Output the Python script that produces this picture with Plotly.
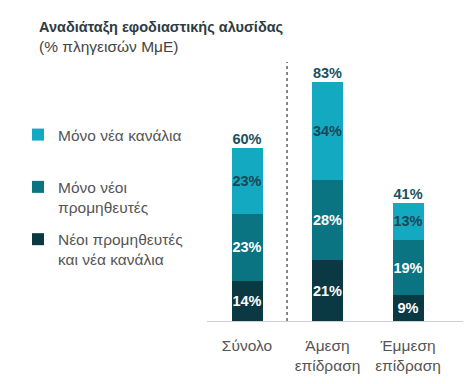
import plotly.graph_objects as go

categories = ["Σύνολο", "Άμεση<br>επίδραση", "Έμμεση<br>επίδραση"]
x_pos = [0, 1, 2]
both_new = [14, 21, 9]          # Νέοι προμηθευτές και νέα κανάλια
only_suppliers = [23, 28, 19]   # Μόνο νέοι προμηθευτές
only_channels = [23, 34, 13]    # Μόνο νέα κανάλια
totals = [60, 83, 41]

series_names = ["Νέοι προμηθευτές<br>και νέα κανάλια", "Μόνο νέοι<br>προμηθευτές", "Μόνο νέα κανάλια<br> "]
legend_ranks = [3, 2, 1]
colors = ["#0A3843", "#0B7482", "#13A9C0"]
label_colors = ["#FFFFFF", "#FFFFFF", "#1E4656"]

FONT = "Liberation Sans, Arial, sans-serif"
L, R, T, B, W, H = 207, 3, 62, 63, 466, 384
PW, PH = W - L - R, H - T - B


def px_x(px):
    return (px - L) / PW


def px_y(py):
    return (H - B - py) / PH


fig = go.Figure()
for i, vals in enumerate([both_new, only_suppliers, only_channels]):
    fig.add_trace(go.Bar(
        x=x_pos, y=vals, name=series_names[i],
        marker=dict(color=colors[i], line=dict(width=0)),
        width=0.385,
        text=[f"{v}%" for v in vals],
        textposition="inside", insidetextanchor="middle",
        textangle=0, constraintext="none",
        textfont=dict(family=FONT, size=14.5, color=label_colors[i]),
        texttemplate="<b>%{text}</b>",
        legendgroup=f"g{i}", legendrank=legend_ranks[i],
        hoverinfo="skip",
    ))

fig.add_trace(go.Scatter(
    x=x_pos, y=totals, mode="text",
    text=[f"<b>{v}%</b>" for v in totals],
    textposition="top center",
    textfont=dict(family=FONT, size=14.5, color="#17535F"),
    showlegend=False, hoverinfo="skip",
))

fig.add_shape(type="line", x0=0.497, x1=0.497, y0=0, y1=1, xref="x", yref="paper",
              line=dict(color="#111111", width=1, dash="3px,3px"))

fig.add_annotation(text="<b>Αναδιάταξη εφοδιαστικής αλυσίδας</b>", xref="paper", yref="paper",
                   x=px_x(37), y=px_y(17), xanchor="left", yanchor="top", showarrow=False,
                   font=dict(family=FONT, size=14.5, color="#2E3B40"))
fig.add_annotation(text="(% πληγεισών ΜμΕ)", xref="paper", yref="paper",
                   x=px_x(37), y=px_y(36), xanchor="left", yanchor="top", showarrow=False,
                   font=dict(family=FONT, size=15.5, color="#444444"))

fig.update_layout(
    width=W, height=H,
    margin=dict(l=L, r=R, t=T, b=B, autoexpand=False),
    barmode="stack",
    uniformtext=dict(mode="show", minsize=14),
    plot_bgcolor="white", paper_bgcolor="white",
    font=dict(family=FONT, size=13, color="#555555"),
    showlegend=True,
    legend=dict(
        xref="container", yref="container",
        x=18/466, y=1-118/384, xanchor="left", yanchor="top",
        traceorder="grouped", tracegroupgap=9, valign="top",
        font=dict(family=FONT, size=15.5, color="#555555"),
        itemwidth=30,
        bgcolor="rgba(0,0,0,0)",
    ),
    xaxis=dict(
        tickmode="array", tickvals=x_pos, ticktext=categories,
        range=[-0.497, 2.683], showline=True, linecolor="#D0D0D0", linewidth=1,
        showgrid=False, zeroline=False, ticks="outside", ticklen=10, tickcolor="rgba(0,0,0,0)",
        tickfont=dict(family=FONT, size=15.5, color="#555555"),
        fixedrange=True,
    ),
    yaxis=dict(range=[0, 89.8], visible=False, showgrid=False, zeroline=False, fixedrange=True),
)

fig.write_html("out.html", config={"displayModeBar": False},
               post_script="document.body.style.margin='0';")
